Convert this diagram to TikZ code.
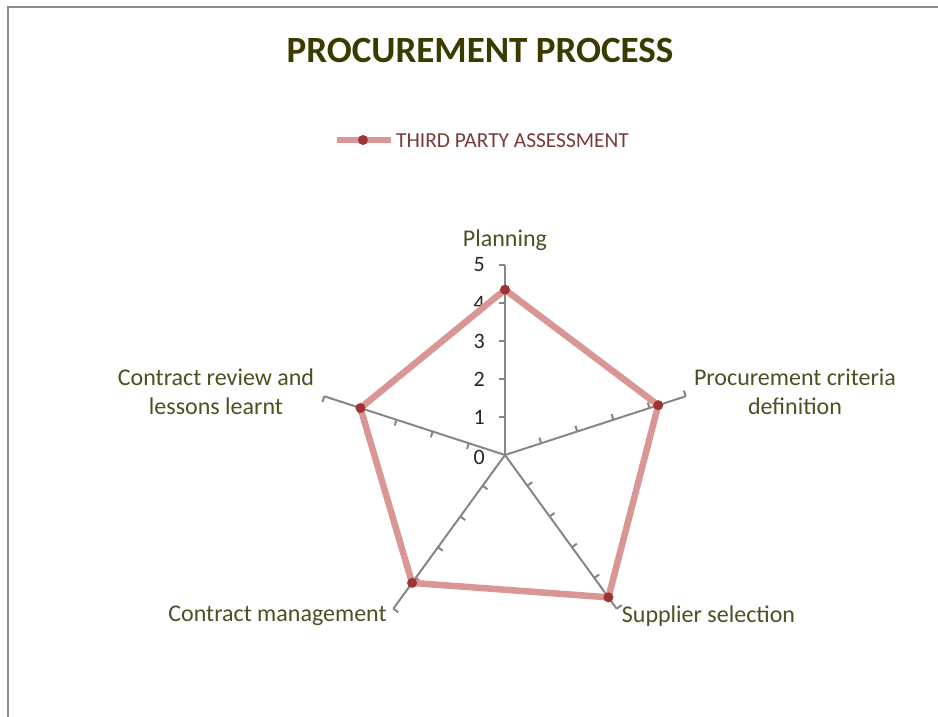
\documentclass[tikz,border=0pt]{standalone}
\usepackage{fontspec}
\setmainfont{Carlito}
\definecolor{titlecol}{HTML}{3B3B00}
\definecolor{labcol}{HTML}{4F4F22}
\definecolor{serline}{HTML}{D99694}
\definecolor{sermark}{HTML}{9E3333}
\definecolor{axiscol}{HTML}{868686}
\definecolor{legtext}{HTML}{7B3A3A}
\definecolor{framecol}{HTML}{8C8C8C}
\begin{document}
\begin{tikzpicture}[x=1pt,y=1pt,
  frame/.style={draw=framecol,line width=2pt},
  titlestyle/.style={font=\fontsize{37}{40}\selectfont\bfseries,text=titlecol,inner sep=0pt},
  legstyle/.style={font=\fontsize{21.4}{24}\selectfont,text=legtext,inner sep=0pt,anchor=west},
  axisline/.style={draw=axiscol,line width=2pt},
  ticklab/.style={font=\fontsize{22}{22}\selectfont,text=black!85,inner sep=0pt,anchor=east},
  catlab/.style={font=\fontsize{24}{29}\selectfont,text=labcol,inner sep=0pt,align=center},
  series/.style={draw=serline,line width=6.5pt,line join=round,line cap=round},
  marker/.style={fill=sermark}
]
\useasboundingbox (-505,-262) rectangle (433,455);
\fill[white] (-505,-262) rectangle (433,455);
\draw[frame] (-497,-262) -- (-497,448) -- (433,448);

% title
\node[titlestyle] (title) at (-25,404) {PROCUREMENT PROCESS};

% legend
\coordinate (legA) at (-168,315);
\coordinate (legB) at (-114,315);
\coordinate (legM) at (-142,315);
\draw[series,line cap=butt] (legA) -- (legB);
\fill[marker] (legM) circle (5);
\node[legstyle] (legtxt) at (-109,314) {THIRD PARTY ASSESSMENT};

% axes
\coordinate (O) at (0,0);
\foreach \a [count=\i] in {90,18,-54,-126,162} {
  \coordinate (c\i) at (\a:190);
  \draw[axisline] (O) -- (c\i);
  \foreach \k in {1,...,5} {
    \draw[axisline] (\a:\k*38) -- ++(\a+90:6);
  }
}

% axis numbers
\node[ticklab] (n0) at (-20,-2) {0};
\foreach \k in {1,...,5} {
  \node[ticklab] (n\k) at (-20,\k*38) {\k};
}

% data
\coordinate (p1) at (90:4.35*38);
\coordinate (p2) at (18:4.24*38);
\coordinate (p3) at (-54:4.63*38);
\coordinate (p4) at (-126:4.16*38);
\coordinate (p5) at (162:4.0*38);
\draw[series] (p1) -- (p2) -- (p3) -- (p4) -- (p5) -- cycle;
\foreach \i in {1,...,5} { \fill[marker] (p\i) circle (5); }

% category labels
\node[catlab] (l1) at (0,215) {Planning};
\node[catlab] (l2) at (290,63) {Procurement criteria\\definition};
\node[catlab] (l3) at (203.5,-161) {Supplier selection};
\node[catlab] (l4) at (-227.5,-161) {Contract management};
\node[catlab] (l5) at (-289,63) {Contract review and\\lessons learnt};
\end{tikzpicture}
\end{document}
